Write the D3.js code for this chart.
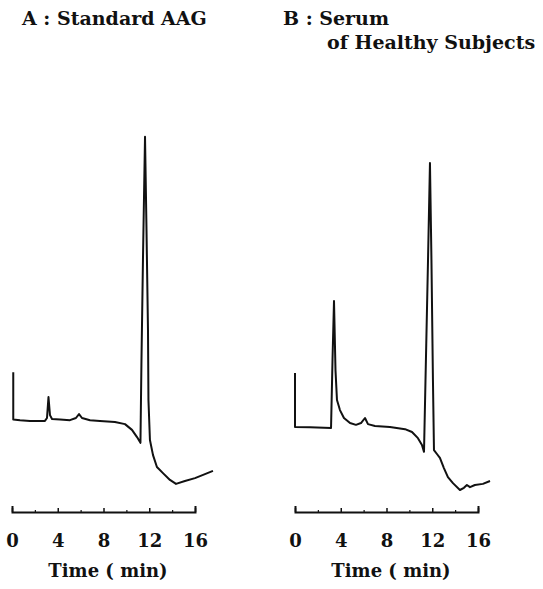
<!DOCTYPE html>
<html>
<head>
<meta charset="utf-8">
<script src="https://cdn.jsdelivr.net/npm/d3@7"></script>
<style>
  body { margin: 0; background: #fff; }
  svg text { font-family: 'DejaVu Serif', serif; font-weight: bold; fill: #111; }
</style>
</head>
<body>
<div id="chart"></div>
<script>
// chromatogram A : standard AAG  (time in min, detector signal arbitrary units)
const timeA = [0.11, 0.11, 0.7, 1.57, 2.88, 3.06, 3.19, 3.32, 3.5, 4.2, 5.07, 5.59, 5.86, 6.12, 6.82, 7.69, 9.0, 9.88, 10.49, 10.93, 11.23, 11.32, 11.45, 11.63, 11.76, 11.89, 11.93, 12.06, 12.33, 12.67, 13.2, 13.81, 14.34, 15.12, 16.0, 16.87, 17.57]
const signalA = [32.7, 19.6, 19.4, 19.2, 19.2, 20.0, 25.8, 20.8, 19.7, 19.6, 19.4, 20.0, 21.1, 20.0, 19.4, 19.2, 18.9, 18.3, 16.7, 14.7, 13.1, 36.1, 63.9, 98.1, 72.2, 44.4, 25.0, 13.9, 9.7, 6.4, 4.7, 2.8, 1.7, 2.5, 3.3, 4.4, 5.3]

// chromatogram B : serum of healthy subjects
const timeB = [0, 0, 1.31, 3.15, 3.28, 3.41, 3.54, 3.67, 3.93, 4.28, 4.81, 5.33, 5.77, 6.12, 6.38, 6.99, 8.3, 9.62, 10.23, 10.75, 11.1, 11.28, 11.41, 11.63, 11.8, 11.93, 12.06, 12.15, 12.41, 12.67, 13.02, 13.37, 13.81, 14.42, 14.77, 15.03, 15.3, 15.73, 16.43, 17.05]
const signalB = [32.5, 17.5, 17.4, 17.2, 36.1, 52.5, 33.3, 25.0, 22.2, 20.0, 18.6, 18.1, 18.6, 20.0, 18.3, 17.8, 17.5, 16.9, 16.1, 14.4, 12.5, 10.6, 30.6, 63.9, 90.8, 63.9, 30.6, 11.1, 10.0, 8.9, 6.1, 3.6, 1.9, 0, 0.6, 1.4, 0.8, 1.4, 1.7, 2.5]

const majorTicks = [0, 4, 8, 12, 16]
const minorTicks = [2, 6, 10, 14]

const panels = [
  { title: ['A : Standard AAG'], time: timeA, signal: signalA, left: 12 },
  { title: ['B : Serum', 'of Healthy Subjects'], time: timeB, signal: signalB, left: 295 }
]

const width = 543, height = 589
const axisY = 512

const svg = d3.select('#chart')
  .append('svg')
  .attr('width', width)
  .attr('height', height)

const y = d3.scaleLinear().domain([0, 100]).range([490, 130])

panels.forEach((p, idx) => {
  const x = d3.scaleLinear().domain([0, 16]).range([p.left, p.left + 183])

  const line = d3.line()
    .x((d) => x(d[0]))
    .y((d) => y(d[1]))

  svg.append('path')
    .datum(d3.zip(p.time, p.signal))
    .attr('d', line)
    .attr('fill', 'none')
    .attr('stroke', '#111')
    .attr('stroke-width', 2)
    .attr('stroke-linejoin', 'round')

  const axis = d3.axisBottom(x)
    .tickValues(majorTicks)
    .tickSizeInner(-4)
    .tickSizeOuter(-6)
    .tickPadding(35)
    .tickFormat(d3.format('d'))

  const g = svg.append('g')
    .attr('transform', `translate(0, ${axisY})`)
    .call(axis)
  g.select('.domain').attr('stroke', '#111').attr('stroke-width', 2)
  g.selectAll('.tick line').attr('stroke', '#111').attr('stroke-width', 1.5)
  g.selectAll('.tick text')
    .attr('font-size', 18)
    .attr('dy', 0)
    .style('font-family', "'DejaVu Serif', serif")
    .style('font-weight', 'bold')

  svg.append('g')
    .attr('transform', `translate(0, ${axisY})`)
    .call(d3.axisBottom(x).tickValues(minorTicks).tickSize(-2).tickFormat(''))
    .call((s) => s.select('.domain').remove())
    .selectAll('line').attr('stroke', '#111').attr('stroke-width', 1.2)

  svg.append('text')
    .attr('x', p.left + 96)
    .attr('y', 577)
    .attr('text-anchor', 'middle')
    .attr('font-size', 18)
    .text('Time ( min)')

  svg.append('text')
    .attr('x', idx === 0 ? 22 : 283)
    .attr('y', 25)
    .attr('font-size', 19)
    .text(p.title[0])
  if (p.title[1]) {
    svg.append('text')
      .attr('x', 327)
      .attr('y', 49)
      .attr('font-size', 19)
      .text(p.title[1])
  }
})
</script>
</body>
</html>
